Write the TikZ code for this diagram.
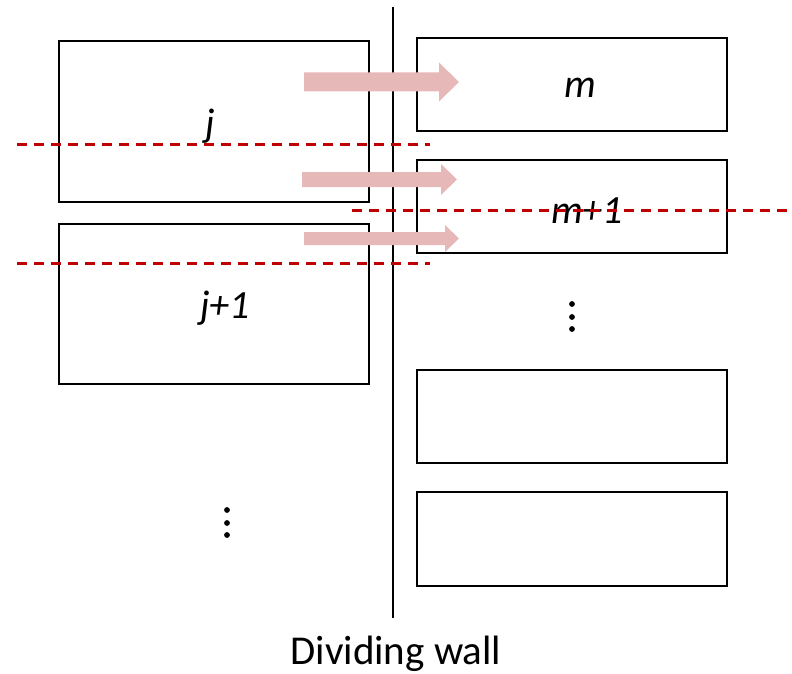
\documentclass[tikz,border=0pt]{standalone}
\usepackage{fontspec}
\setmainfont{Carlito}
\definecolor{pinkarrow}{HTML}{E6B9B8}
\definecolor{cutred}{HTML}{C00000}
\begin{document}
\begin{tikzpicture}[x=1pt,y=-1pt,
  cell/.style={draw=black,line width=2.2pt,inner sep=0pt},
  cutline/.style={draw=cutred,line width=2.3pt,dash pattern=on 10pt off 7pt},
  flow/.style={fill=pinkarrow,draw=none},
  lbl/.style={font=\fontsize{40}{46}\selectfont\itshape,anchor=base,inner sep=0pt},
  vdot/.style={circle,fill=black,inner sep=0pt,minimum size=5.8pt}]
\useasboundingbox (0,0) rectangle (792,674);
% left cells
\draw[cell] (59,41) rectangle (369,202);
\draw[cell] (59,224) rectangle (369,384);
% right cells
\draw[cell] (417,38) rectangle (727,131);
\draw[cell] (417,160) rectangle (727,253);
\draw[cell] (417,370) rectangle (727,463);
\draw[cell] (417,492) rectangle (727,586);
% wall
\draw[line width=2.2pt] (393,7) -- (393,618);
% labels
\node[lbl] (j) at (210,136) {j};
\node[lbl] (j1) at (225,318) {j+1};
\node[lbl] (m) at (580,98) {m};
\node[lbl] (m1) at (587,223) {m+1};
\node[font=\fontsize{41}{48}\selectfont,anchor=base,inner sep=0pt] (wall) at (396,664) {Dividing wall};
% dots
\foreach \y in {510,523,535} \node[vdot] at (227,\y) {};
\foreach \y in {304,317,329} \node[vdot] at (572,\y) {};
% cut lines
\draw[cutline] (17,144.5) -- (430,144.5);
\draw[cutline] (17,263.5) -- (430,263.5);
\draw[cutline] (352,210.5) -- (790,210.5);
% flow arrows
\fill[flow] (304,72.5) -- (439,72.5) -- (439,62.5) -- (459,82) -- (439,101.5) -- (439,91.5) -- (304,91.5) -- cycle;
\fill[flow] (302,172) -- (441,172) -- (441,164) -- (457,179.5) -- (441,195) -- (441,187) -- (302,187) -- cycle;
\fill[flow] (304,232) -- (445,232) -- (445,225) -- (459,238.5) -- (445,252) -- (445,245) -- (304,245) -- cycle;
\end{tikzpicture}
\end{document}
